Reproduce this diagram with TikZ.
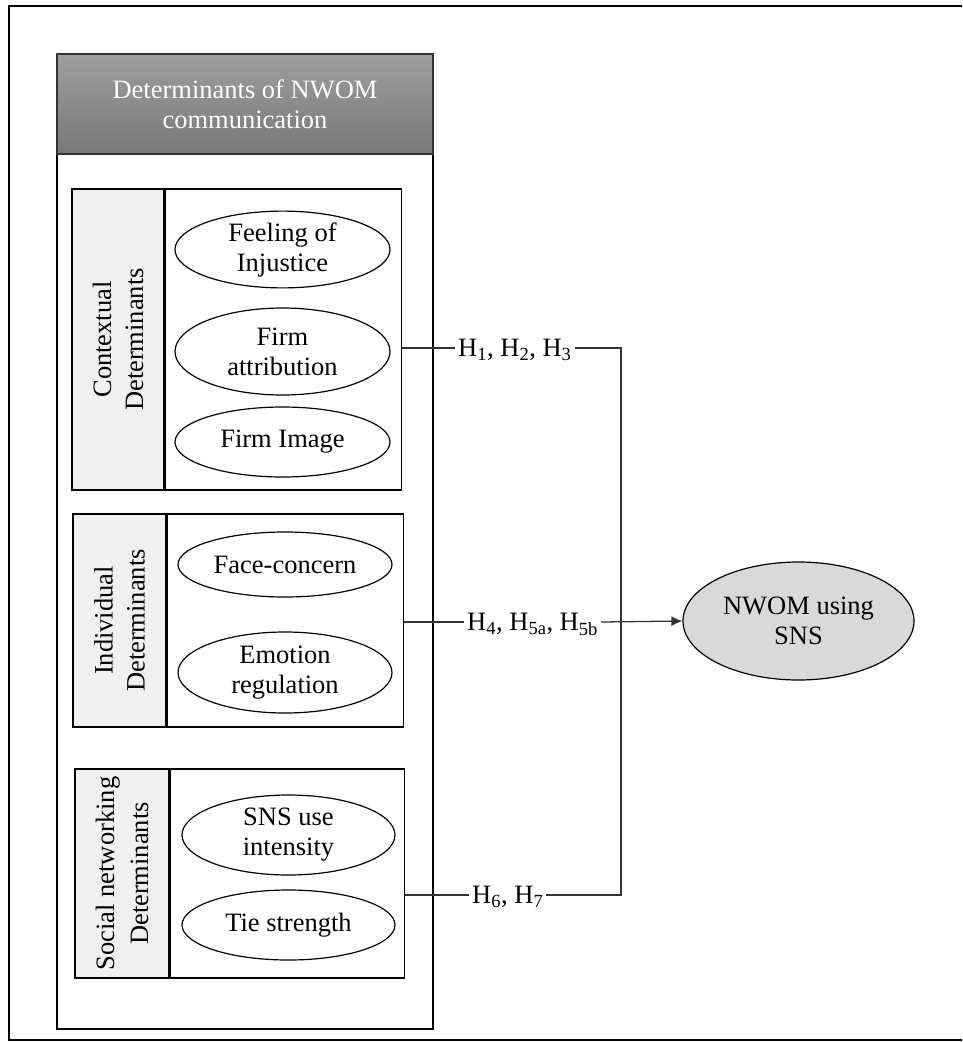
\documentclass[tikz,border=0pt]{standalone}
\usepackage{fontspec}
\setmainfont{Liberation Serif}
\usetikzlibrary{shapes.geometric,arrows.meta}
\begin{document}
\begin{tikzpicture}[x=1pt,y=-1pt,
  every node/.style={font=\fontsize{26.5}{30}\selectfont},
  graybox/.style={draw, line width=1.6pt, fill=black!6, inner sep=0pt, align=center},
  whitebox/.style={draw, line width=1.6pt, fill=white, inner sep=0pt},
  oval/.style={ellipse, draw, line width=1.2pt, inner sep=0pt, align=center},
  hlabel/.style={text height=17.5pt, text depth=0pt, inner sep=3pt},
  conn/.style={draw=black!80, line width=1.1pt}]
\useasboundingbox (0,0) rectangle (962,1042);
% outer frame
\draw[line width=2pt] (962,5.5) -- (8.5,5.5) -- (8.5,1040) -- (962,1040);
% container
\node[draw, line width=1.8pt, minimum width=376pt, minimum height=975pt, inner sep=0pt] (cont) at (245,541.5) {};
\node[draw=black!80, line width=1.2pt, top color=black!38, bottom color=black!53, minimum width=376pt, minimum height=100pt, inner sep=0pt, align=center, text=white] (head) at (245,104) {Determinants of NWOM\\communication};
% group 1
\node[graybox, minimum width=92pt, minimum height=301pt] (g1l) at (118,339.5) {};
\node[rotate=90, align=center, font=\fontsize{26.5}{32}\selectfont] (g1t) at (g1l.center) {Contextual\\Determinants};
\node[whitebox, minimum width=236pt, minimum height=301pt, anchor=west] (g1r) at (g1l.east) {};
\node[oval, minimum width=215pt, minimum height=75pt] (e1) at (282.5,249.5) {Feeling of\\Injustice};
\node[oval, minimum width=215pt, minimum height=87pt] (e2) at (282.5,351.5) {Firm\\attribution};
\node[oval, minimum width=215pt, minimum height=70pt] (e3) at (282.5,442) {Firm Image};
% group 2
\node[graybox, minimum width=93pt, minimum height=213pt] (g2l) at (119.5,620.5) {};
\node[rotate=90, align=center, font=\fontsize{26.5}{32}\selectfont] (g2t) at (g2l.center) {Individual\\Determinants};
\node[whitebox, minimum width=236pt, minimum height=213pt, anchor=west] (g2r) at (g2l.east) {};
\node[oval, minimum width=214pt, minimum height=65pt] (e4) at (285,564.5) {Face-concern};
\node[oval, minimum width=214pt, minimum height=81pt] (e5) at (285,672.5) {Emotion\\regulation};
% group 3
\node[graybox, minimum width=94pt, minimum height=209pt] (g3l) at (122,873.5) {};
\node[rotate=90, align=center, font=\fontsize{26.5}{34}\selectfont] (g3t) at (g3l.center) {Social networking\\Determinants};
\node[whitebox, minimum width=234pt, minimum height=209pt, anchor=west] (g3r) at (g3l.east) {};
\node[oval, minimum width=213pt, minimum height=80pt] (e6) at (288.5,835) {SNS use\\intensity};
\node[oval, minimum width=213pt, minimum height=70pt] (e7) at (288.5,925) {Tie strength};
% outcome
\node[oval, fill=black!15, minimum width=231pt, minimum height=118pt] (out) at (798.5,621) {NWOM using\\SNS};
% labels
\node[hlabel, anchor=west] (h1) at (455,348) {H\textsubscript{1}, H\textsubscript{2}, H\textsubscript{3}};
\node[hlabel, anchor=west] (h4) at (464,622) {H\textsubscript{4}, H\textsubscript{5a}, H\textsubscript{5b}};
\node[hlabel, anchor=west] (h6) at (469,895) {H\textsubscript{6}, H\textsubscript{7}};
\coordinate (j1) at (621,348);
\coordinate (j3) at (621,895);
% connectors
\draw[conn] (g1r.east |- h1.west) -- (h1.west);
\draw[conn] (g2r.east |- h4.west) -- (h4.west);
\draw[conn] (g3r.east |- h6.west) -- (h6.west);
\draw[conn] (h1.east) -- (j1) -- (j3) -- (h6.east);
\draw[conn, line width=1.3pt, -{Latex[length=11pt,width=10pt]}] (h4.east) -- (out.west);
\end{tikzpicture}
\end{document}
